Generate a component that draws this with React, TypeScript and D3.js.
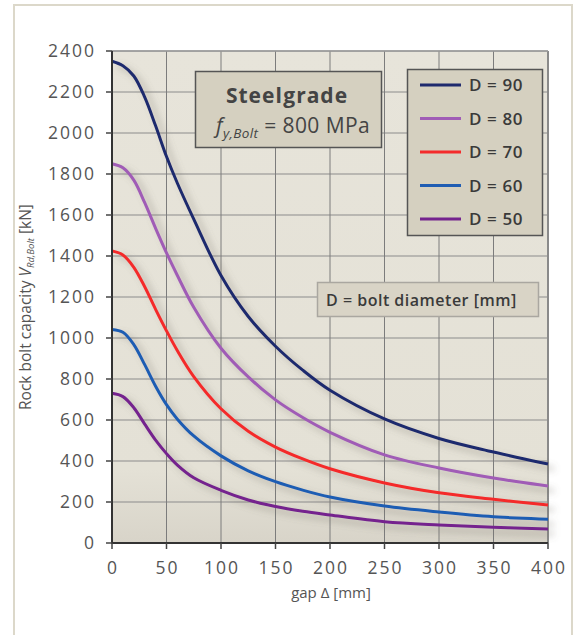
import React from "react";
import * as d3 from "d3";

// gap values (mm) sampled along the curves
const gaps = [0, 10, 20, 30, 40, 50, 60, 75, 100, 125, 150, 175, 200, 250, 300, 350, 400];

// rock bolt capacity (kN)
const d90 = [2350, 2328, 2278, 2175, 2035, 1885, 1755, 1580, 1305, 1105, 960, 843, 745, 605, 510, 444, 385];
const d80 = [1850, 1830, 1770, 1660, 1535, 1415, 1305, 1150, 950, 810, 698, 612, 540, 430, 366, 317, 278];
const d70 = [1425, 1405, 1345, 1250, 1140, 1035, 938, 812, 655, 545, 468, 410, 362, 293, 245, 213, 185];
const d60 = [1042, 1028, 968, 870, 765, 675, 604, 522, 425, 352, 299, 258, 224, 180, 151, 128, 116];
const d50 = [730, 714, 660, 580, 502, 436, 380, 318, 257, 210, 178, 155, 137, 104, 88, 77, 68];

const seriesNames = ["D = 90", "D = 80", "D = 70", "D = 60", "D = 50"];
const seriesValues = [d90, d80, d70, d60, d50];
const seriesColors = ["#1f2a6e", "#a05cb6", "#f42b2b", "#1f5db3", "#74238e"];

const xTicks = [0, 50, 100, 150, 200, 250, 300, 350, 400];
const yTicks = [0, 200, 400, 600, 800, 1000, 1200, 1400, 1600, 1800, 2000, 2200, 2400];

const W = 581;
const H = 635;
const plot = { left: 112, right: 548, top: 51, bottom: 543 };
const font = "'Open Sans', 'DejaVu Sans', sans-serif";

export default function App() {
  const x = d3.scaleLinear().domain([0, 400]).range([plot.left, plot.right]);
  const y = d3.scaleLinear().domain([0, 2400]).range([plot.bottom, plot.top]);

  const line = d3
    .line<number>()
    .x((_, i) => x(gaps[i]))
    .y((d) => y(d))
    .curve(d3.curveCatmullRom.alpha(0.5));

  return (
    <svg
      width={W}
      height={H}
      style={{ position: "absolute", left: 0, top: 0, fontFamily: font }}
    >
      <defs>
        <filter id="shade" x="-10%" y="-10%" width="130%" height="130%">
          <feGaussianBlur in="SourceAlpha" stdDeviation="3.5" />
          <feOffset dx="6" dy="5" result="blur" />
          <feFlood floodColor="#6e6a60" floodOpacity="0.45" />
          <feComposite in2="blur" operator="in" result="shadow" />
          <feMerge>
            <feMergeNode in="shadow" />
            <feMergeNode in="SourceGraphic" />
          </feMerge>
        </filter>
        <linearGradient id="bg" x1="0" y1="0" x2="0" y2="1">
          <stop offset="0" stopColor="#e7e4da" />
          <stop offset="0.85" stopColor="#e4e1d6" />
          <stop offset="1" stopColor="#d8d4c9" />
        </linearGradient>
      </defs>

      <rect x={0} y={0} width={W} height={H} fill="#fff" />
      <rect x={14} y={5} width={558} height={H + 10} fill="#fff" stroke="#dcd8ca" strokeWidth={2} />

      {/* plot background */}
      <rect
        x={plot.left}
        y={plot.top}
        width={plot.right - plot.left}
        height={plot.bottom - plot.top}
        fill="url(#bg)"
      />

      {/* grid */}
      {yTicks.slice(1).map((t) => (
        <line key={"gy" + t} x1={plot.left} x2={plot.right} y1={y(t)} y2={y(t)} stroke="#8c8c8c" strokeWidth={1.2} />
      ))}
      {xTicks.slice(1).map((t) => (
        <line key={"gx" + t} x1={x(t)} x2={x(t)} y1={plot.top} y2={plot.bottom} stroke="#7c7c7c" strokeWidth={1} />
      ))}
      <line x1={plot.right} x2={plot.right} y1={plot.top} y2={plot.bottom} stroke="#8a8a8a" strokeWidth={2} />
      <line x1={plot.left} x2={plot.right} y1={plot.top} y2={plot.top} stroke="#9a9a9a" strokeWidth={1.5} />

      {/* curves */}
      <g filter="url(#shade)">
        {seriesValues.map((vals, i) => (
          <path key={seriesNames[i]} d={line(vals) || ""} fill="none" stroke={seriesColors[i]} strokeWidth={3} />
        ))}
      </g>

      {/* axes */}
      <line x1={plot.left} x2={plot.left} y1={plot.top} y2={plot.bottom} stroke="#333" strokeWidth={2} />
      <line x1={plot.left - 1} x2={plot.right} y1={plot.bottom} y2={plot.bottom} stroke="#333" strokeWidth={2} />
      {yTicks.map((t) => (
        <g key={"ty" + t}>
          <line x1={plot.left - 6} x2={plot.left} y1={y(t)} y2={y(t)} stroke="#444" strokeWidth={1.5} />
          <text x={96} y={y(t)} dy="0.36em" textAnchor="end" fontSize={17.5} letterSpacing={2} fill="#555">
            {t}
          </text>
        </g>
      ))}
      {xTicks.map((t) => (
        <g key={"tx" + t}>
          <line x1={x(t)} x2={x(t)} y1={plot.bottom} y2={plot.bottom + 6} stroke="#444" strokeWidth={1.5} />
          <text x={x(t) + 1} y={574} textAnchor="middle" fontSize={17.5} letterSpacing={2} fill="#555">
            {t}
          </text>
        </g>
      ))}

      <text x={331} y={598} textAnchor="middle" fontSize={15} fill="#555">
        gap Δ [mm]
      </text>
      <text transform="translate(31,410) rotate(-90)" fontSize={15.5} fill="#555">
        Rock bolt capacity{" "}
        <tspan fontStyle="italic">V</tspan>
        <tspan fontStyle="italic" fontSize={9.5} dy={3}>Rd,Bolt</tspan>
        <tspan dy={-3}>{"  [kN]"}</tspan>
      </text>

      {/* steel grade box */}
      <rect x={195.5} y={71.5} width={186} height={76} fill="#d5d0c0" stroke="#555" strokeWidth={1.5} />
      <text x={287} y={103} textAnchor="middle" fontSize={21} fontWeight="bold" letterSpacing={1} fill="#444" wordSpacing={-6}>
        Steel grade
      </text>
      <text x={293} y={133} textAnchor="middle" fontSize={21} letterSpacing={0.4} fill="#444">
        <tspan fontStyle="italic">f</tspan>
        <tspan fontStyle="italic" fontSize={13.5} dy={5}>y,Bolt</tspan>
        <tspan dy={-5}> = 800 MPa</tspan>
      </text>

      {/* legend */}
      <rect x={407.5} y={69.5} width={135} height={166} fill="#d5d0c0" stroke="#555" strokeWidth={1.5} />
      {seriesNames.map((n, i) => {
        const ly = 85 + i * 33.5;
        return (
          <g key={"lg" + n}>
            <line x1={420} x2={461} y1={ly} y2={ly} stroke={seriesColors[i]} strokeWidth={3} />
            <text x={469} y={ly} dy="0.36em" fontSize={17} fontWeight={600} letterSpacing={0.6} fill="#3a3a3a">
              {n}
            </text>
          </g>
        );
      })}

      {/* diameter note */}
      <rect x={317.5} y={282.5} width={221} height={34} fill="#d9d4c6" stroke="#aaa7a0" strokeWidth={1.5} />
      <text x={326} y={305.5} fontSize={16} fontWeight={600} letterSpacing={0.5} fill="#3a3a3a">
        D = bolt diameter  [mm]
      </text>
    </svg>
  );
}
